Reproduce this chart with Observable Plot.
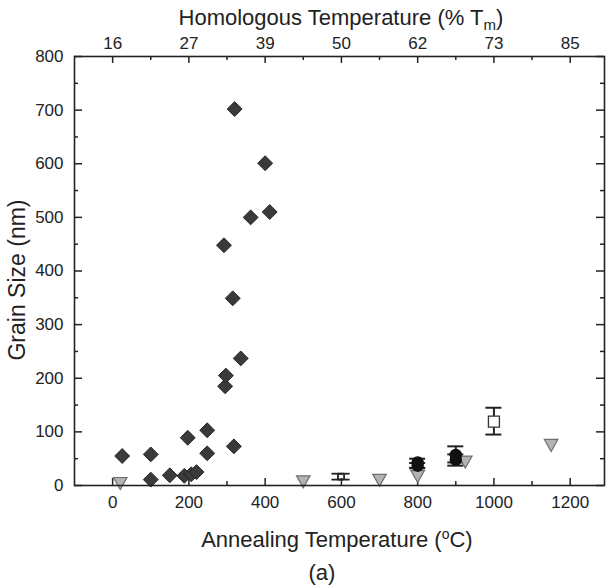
<!DOCTYPE html>
<html>
<head>
<meta charset="utf-8">
<script src="https://cdn.jsdelivr.net/npm/d3@7"></script>
<script src="https://cdn.jsdelivr.net/npm/@observablehq/plot@0.6"></script>
<style>
  body { margin: 0; background: #fff; }
  #chart svg { display: block; }
</style>
</head>
<body>
<div id="chart"></div>
<script>
// ---- data ----
const diamondTemp = [25, 100, 100, 150, 188, 197, 206, 220, 248, 248, 292, 295, 297, 315, 318, 320, 336, 362, 400, 412];
const diamondSize = [55, 58, 11, 19, 18, 89, 21, 25, 103, 60, 448, 185, 205, 349, 73, 702, 237, 500, 601, 510];

const triTemp = [20, 500, 700, 800, 925, 1150];
const triSize = [7, 10, 13, 20, 47, 78];

const circTemp = [800, 800, 900, 900];
const circSize = [43, 37, 57, 48];
const circLo   = [33, 32, 43, 37];
const circHi   = [50, 42, 73, 58];

const crossTemp = [591, 607];
const crossLo   = [11, 11];
const crossHi   = [22, 22];

const sqTemp = [1000];
const sqSize = [119];
const sqLo   = [95];
const sqHi   = [145];

const xMajor = [0, 200, 400, 600, 800, 1000, 1200];
const xMinor = [100, 300, 500, 700, 900, 1100];
const yMajor = [0, 100, 200, 300, 400, 500, 600, 700, 800];
const yMinor = [50, 150, 250, 350, 450, 550, 650, 750];
const topLabels = ["16", "27", "39", "50", "62", "73", "85"];

// ---- tables ----
const diamonds = diamondTemp.map((t, i) => ({t, g: diamondSize[i]}));
const tris = triTemp.map((t, i) => ({t, g: triSize[i]}));
const circs = circTemp.map((t, i) => ({t, g: circSize[i], lo: circLo[i], hi: circHi[i]}));
const crosses = crossTemp.map((t, i) => ({t, lo: crossLo[i], hi: crossHi[i]}));
const squares = sqTemp.map((t, i) => ({t, g: sqSize[i], lo: sqLo[i], hi: sqHi[i]}));
const errAll = [...circs, ...squares];

const W = 607, H = 585;
const mL = 74, mR = 3, mT = 56, mB = 100;
const FW = W - mL - mR, FH = H - mT - mB;

const downTriangle = {
  draw(context, size) {
    const k = Math.sqrt(size / Math.PI);
    const a = k * 1.35, b = k * 0.85, c = k * 1.55;
    context.moveTo(-a, -b);
    context.lineTo(a, -b);
    context.lineTo(0, c);
    context.closePath();
  }
};

const topFmt = d => topLabels[xMajor.indexOf(d)];
const plainFmt = d => String(d);
const ink = "#222";

const chartSvg = Plot.plot({
  width: W,
  height: H,
  marginLeft: mL,
  marginRight: mR,
  marginTop: mT,
  marginBottom: mB,
  style: {fontFamily: "'Liberation Sans', Arial, sans-serif", fontSize: "17px", color: ink, background: "#fff"},
  x: {domain: [-100, 1290]},
  y: {domain: [0, 800]},
  marks: [
    // tick marks (inside)
    Plot.ruleX(xMajor, {stroke: ink, strokeWidth: 1.5, insetTop: FH - 7}),
    Plot.ruleX(xMajor, {stroke: ink, strokeWidth: 1.5, insetBottom: FH - 7}),
    Plot.ruleX(xMinor, {stroke: ink, strokeWidth: 1.5, insetTop: FH - 4}),
    Plot.ruleX(xMinor, {stroke: ink, strokeWidth: 1.5, insetBottom: FH - 4}),
    Plot.ruleY(yMajor, {stroke: ink, strokeWidth: 1.5, insetRight: FW - 8}),
    Plot.ruleY(yMajor, {stroke: ink, strokeWidth: 1.5, insetLeft: FW - 8}),
    Plot.ruleY(yMinor, {stroke: ink, strokeWidth: 1.5, insetRight: FW - 4}),
    Plot.ruleY(yMinor, {stroke: ink, strokeWidth: 1.5, insetLeft: FW - 4}),
    // axes labels
    Plot.axisX({anchor: "bottom", ticks: xMajor, tickSize: 0, tickPadding: 10, fontSize: 17, tickFormat: plainFmt, label: null}),
    Plot.axisX({anchor: "top", ticks: xMajor, tickSize: 0, tickPadding: 8, fontSize: 17, tickFormat: topFmt, label: null}),
    Plot.axisY({anchor: "left", ticks: yMajor, tickSize: 0, tickPadding: 11, fontSize: 17, tickFormat: plainFmt, label: null}),
    // error bars
    Plot.ruleX(errAll, {x: "t", y1: "lo", y2: "hi", stroke: ink, strokeWidth: 2}),
    Plot.ruleY(errAll, {y: "lo", x1: "t", x2: "t", insetLeft: -8, insetRight: -8, stroke: ink, strokeWidth: 2}),
    Plot.ruleY(errAll, {y: "hi", x1: "t", x2: "t", insetLeft: -8, insetRight: -8, stroke: ink, strokeWidth: 2}),
    Plot.ruleX(crosses, {x: "t", y1: "lo", y2: "hi", stroke: ink, strokeWidth: 1.8}),
    Plot.ruleY(crosses, {y: "lo", x1: "t", x2: "t", insetLeft: -6, insetRight: -6, stroke: ink, strokeWidth: 1.8}),
    Plot.ruleY(crosses, {y: "hi", x1: "t", x2: "t", insetLeft: -6, insetRight: -6, stroke: ink, strokeWidth: 1.8}),
    // markers
    Plot.dot(tris, {x: "t", y: "g", symbol: downTriangle, r: 5, fill: "#b3b3b3", stroke: "#6e6e6e", strokeWidth: 1.2}),
    Plot.dot(circs, {x: "t", y: "g", symbol: "circle", r: 5.5, fill: "#111", stroke: "#111"}),
    Plot.dot(squares, {x: "t", y: "g", symbol: "square", r: 6.2, fill: "#fff", stroke: "#333", strokeWidth: 1.3}),
    Plot.dot(diamonds, {x: "t", y: "g", symbol: "diamond2", r: 6.7, fill: "#3a3a3a", stroke: "#262626", strokeWidth: 1}),
    Plot.frame({stroke: ink, strokeWidth: 1.6})
  ]
});

// titles
const sx = chartSvg.scale("x");
const cx = sx.apply(600);
const sel = d3.select(chartSvg);
const font = "'Liberation Sans', Arial, sans-serif";

const topTitle = sel.append("text")
  .attr("x", cx).attr("y", 25)
  .attr("text-anchor", "middle")
  .attr("font-family", font).attr("font-size", 22).attr("fill", ink);
topTitle.append("tspan").text("Homologous Temperature (% T");
topTitle.append("tspan").attr("font-size", 15).attr("dy", 5).text("m");
topTitle.append("tspan").attr("dy", -5).text(")");

const botTitle = sel.append("text")
  .attr("x", cx - 4).attr("y", 547)
  .attr("text-anchor", "middle")
  .attr("font-family", font).attr("font-size", 22).attr("fill", ink);
botTitle.append("tspan").text("Annealing Temperature (");
botTitle.append("tspan").attr("font-size", 14).attr("dy", -8).text("o");
botTitle.append("tspan").attr("dy", 8).text("C)");

sel.append("text")
  .attr("x", 322).attr("y", 580)
  .attr("text-anchor", "middle")
  .attr("font-family", font).attr("font-size", 22).attr("fill", ink)
  .text("(a)");

sel.append("text")
  .attr("transform", "translate(25,280) rotate(-90)")
  .attr("text-anchor", "middle")
  .attr("font-family", font).attr("font-size", 23).attr("fill", ink)
  .text("Grain Size (nm)");

document.getElementById("chart").appendChild(chartSvg);
</script>
</body>
</html>
